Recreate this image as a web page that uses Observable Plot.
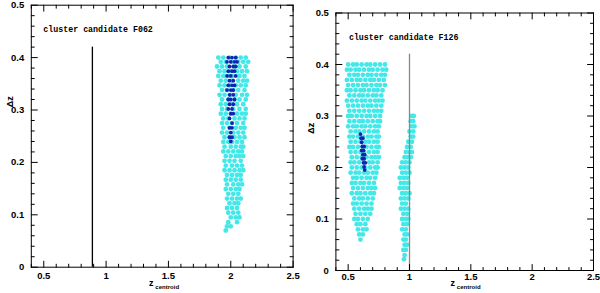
<!DOCTYPE html>
<html><head><meta charset="utf-8">
<script src="https://cdn.jsdelivr.net/npm/d3@7"></script>
<script src="https://cdn.jsdelivr.net/npm/@observablehq/plot@0.6"></script>
<style>
body{margin:0;background:#fff}
#wrap{position:relative;width:600px;height:293px;background:#fff}
#wrap svg{position:absolute;top:0}
</style>
</head><body><div id="wrap"></div>
<script>
// ---- tick labels ----
const xTickValues = [0.5, 1, 1.5, 2, 2.5];
const yTickValues = [0, 0.1, 0.2, 0.3, 0.4, 0.5];
const xMinorValues = [0.4, 0.6, 0.7, 0.8, 0.9, 1.1, 1.2, 1.3, 1.4, 1.6, 1.7, 1.8, 1.9, 2.1, 2.2, 2.3, 2.4];
const yMinorValues = [0.02,0.04,0.06,0.08,0.12,0.14,0.16,0.18,0.22,0.24,0.26,0.28,0.32,0.34,0.36,0.38,0.42,0.44,0.46,0.48];

// ---- titles / reference lines ----
const titles = ["cluster candidate F062", "cluster candidate F126"];
const refLineX = [0.89, 1.0];
const refLineTop = 0.42;

// ---- F062: cyan cloud rows [dz, [z_centroid ...]] ----
const f062Cyan = [
 [0.400,[1.90,1.94,1.99,2.04,2.08,2.12]],
 [0.392,[1.92,1.96,2.01,2.06,2.10,2.14]],
 [0.383,[1.89,1.93,1.97,2.03,2.07,2.12]],
 [0.374,[1.91,1.95,2.00,2.05,2.09,2.13]],
 [0.365,[1.90,1.94,1.98,2.02,2.07,2.11]],
 [0.356,[1.92,1.96,2.01,2.06,2.10,2.13]],
 [0.347,[1.91,1.95,1.99,2.04,2.08,2.12]],
 [0.338,[1.93,1.97,2.02,2.06,2.11]],
 [0.329,[1.91,1.95,2.00,2.04,2.09,2.13]],
 [0.320,[1.93,1.98,2.03,2.07,2.12]],
 [0.311,[1.92,1.96,2.01,2.05,2.10]],
 [0.302,[1.93,1.97,2.02,2.07,2.12]],
 [0.293,[1.92,1.96,2.00,2.05,2.09,2.12]],
 [0.284,[1.94,1.98,2.03,2.07,2.11]],
 [0.275,[1.93,1.97,2.01,2.05,2.10]],
 [0.266,[1.94,1.99,2.04,2.08,2.11]],
 [0.257,[1.93,1.97,2.02,2.06,2.10]],
 [0.248,[1.95,1.99,2.03,2.07,2.11]],
 [0.239,[1.94,1.98,2.01,2.05,2.09]],
 [0.230,[1.95,2.00,2.04,2.08,2.10]],
 [0.221,[1.94,1.98,2.02,2.06,2.09]],
 [0.212,[1.96,2.00,2.04,2.07,2.10]],
 [0.203,[1.95,1.99,2.03,2.08]],
 [0.194,[1.96,2.01,2.05,2.09]],
 [0.185,[1.95,1.99,2.03,2.07,2.10]],
 [0.176,[1.97,2.01,2.05,2.08]],
 [0.167,[1.96,2.00,2.04,2.08]],
 [0.158,[1.97,2.02,2.06,2.09]],
 [0.149,[1.96,2.00,2.04,2.07]],
 [0.140,[1.98,2.02,2.06]],
 [0.131,[1.97,2.01,2.05,2.08]],
 [0.122,[1.99,2.03,2.06]],
 [0.113,[1.97,2.01,2.05]],
 [0.104,[1.98,2.02,2.06]],
 [0.095,[2.00,2.04,2.07]],
 [0.086,[1.98,2.05]],
 [0.078,[1.97,2.00]],
 [0.070,[1.96]]
];
const f062Blue = [
 [0.400,[1.98,2.01,2.04]],
 [0.392,[1.97,2.00,2.03,2.05]],
 [0.383,[1.99,2.02,2.04]],
 [0.374,[1.98,2.01,2.03]],
 [0.365,[1.97,2.00,2.04]],
 [0.356,[1.99,2.02]],
 [0.347,[1.98,2.01,2.03]],
 [0.338,[1.97,2.00,2.02]],
 [0.329,[1.99,2.02]],
 [0.320,[1.98,2.00,2.03]],
 [0.311,[1.99,2.02]],
 [0.302,[1.98,2.01]],
 [0.293,[2.00,2.02]],
 [0.284,[1.99]],
 [0.275,[2.01]],
 [0.266,[1.99,2.01]],
 [0.257,[2.00]],
 [0.248,[1.99,2.01]],
 [0.240,[2.00]]
];

// ---- F126 ----
const f126CyanA = [
 [0.400,[0.50,0.54,0.57,0.61,0.65,0.68,0.72,0.76,0.80]],
 [0.390,[0.49,0.52,0.56,0.59,0.63,0.67,0.70,0.74,0.78,0.81]],
 [0.380,[0.51,0.55,0.58,0.62,0.66,0.69,0.73,0.77,0.80]],
 [0.370,[0.49,0.53,0.57,0.60,0.64,0.68,0.71,0.75,0.79]],
 [0.360,[0.50,0.54,0.58,0.62,0.65,0.69,0.73,0.76,0.80]],
 [0.350,[0.49,0.52,0.56,0.60,0.63,0.67,0.71,0.74,0.78]],
 [0.340,[0.51,0.55,0.59,0.62,0.66,0.70,0.73,0.77]],
 [0.330,[0.49,0.53,0.57,0.61,0.64,0.68,0.72,0.75,0.78]],
 [0.320,[0.50,0.54,0.58,0.62,0.66,0.69,0.73,0.77]],
 [0.310,[0.51,0.55,0.59,0.63,0.67,0.71,0.74,0.77]],
 [0.300,[0.50,0.53,0.57,0.61,0.65,0.68,0.72,0.76]],
 [0.290,[0.51,0.55,0.59,0.62,0.66,0.70,0.74,0.76]],
 [0.280,[0.50,0.54,0.57,0.61,0.64,0.68,0.72,0.75]],
 [0.270,[0.52,0.56,0.59,0.63,0.67,0.71,0.74]],
 [0.260,[0.51,0.54,0.58,0.62,0.66,0.69,0.73,0.75]],
 [0.250,[0.52,0.56,0.60,0.64,0.67,0.71,0.74]],
 [0.240,[0.51,0.54,0.58,0.62,0.65,0.69,0.73,0.75]],
 [0.230,[0.52,0.56,0.60,0.63,0.67,0.71,0.74]],
 [0.220,[0.53,0.57,0.61,0.65,0.69,0.72,0.75]],
 [0.210,[0.52,0.55,0.59,0.63,0.67,0.70,0.74]],
 [0.200,[0.53,0.57,0.61,0.64,0.68,0.72,0.74]],
 [0.190,[0.52,0.56,0.59,0.63,0.66,0.70,0.73]],
 [0.180,[0.54,0.57,0.61,0.65,0.68,0.72]],
 [0.170,[0.53,0.56,0.60,0.63,0.67,0.71]],
 [0.160,[0.54,0.58,0.62,0.66,0.69,0.72]],
 [0.150,[0.53,0.57,0.60,0.64,0.68,0.71]],
 [0.140,[0.55,0.59,0.62,0.66,0.70]],
 [0.130,[0.54,0.57,0.61,0.65,0.69]],
 [0.120,[0.55,0.59,0.63,0.66,0.69]],
 [0.110,[0.56,0.60,0.64,0.68]],
 [0.100,[0.55,0.58,0.62,0.66]],
 [0.090,[0.57,0.60,0.64]],
 [0.080,[0.58,0.62,0.65]],
 [0.070,[0.59,0.62]],
 [0.060,[0.60]]
];
const f126CyanB = [
 [0.300,[1.02,1.035]],
 [0.290,[1.01,1.03]],
 [0.280,[1.02,1.04]],
 [0.270,[1.00,1.03]],
 [0.260,[1.01,1.03]],
 [0.250,[0.99,1.02]],
 [0.240,[0.98,1.01]],
 [0.230,[0.97,1.00,1.02]],
 [0.220,[0.96,0.99,1.01]],
 [0.210,[0.94,0.97,1.00]],
 [0.200,[0.93,0.96,0.99]],
 [0.190,[0.94,0.97,1.00]],
 [0.180,[0.92,0.95,0.98]],
 [0.170,[0.93,0.96,0.99]],
 [0.160,[0.92,0.95,0.98]],
 [0.150,[0.94,0.97,1.00]],
 [0.140,[0.93,0.96,0.99]],
 [0.130,[0.94,0.97]],
 [0.120,[0.93,0.96,0.99]],
 [0.110,[0.95,0.98]],
 [0.100,[0.94,0.97,0.99]],
 [0.090,[0.95,0.98]],
 [0.080,[0.94,0.97]],
 [0.070,[0.96,0.98]],
 [0.060,[0.95,0.97]],
 [0.050,[0.96,0.98]],
 [0.040,[0.95,0.97]],
 [0.030,[0.96]],
 [0.022,[0.955]]
];
const f126Blue = [
 [0.265,[0.600]],
 [0.257,[0.605,0.620]],
 [0.249,[0.610]],
 [0.241,[0.615,0.630]],
 [0.233,[0.610,0.625]],
 [0.225,[0.620,0.635]],
 [0.217,[0.615,0.630]],
 [0.209,[0.625,0.640]],
 [0.201,[0.630]],
 [0.195,[0.635]]
];

const CYAN = "#45e8e8", BLUE = "#1424b0";
const toPoints = rows => rows.flatMap(([y, xs]) => xs.map(x => ({x, y})));
const fmt = d => String(d);

const tickShape = {draw(ctx, l) { ctx.moveTo(0, 0); ctx.lineTo(0, -l); }};
function ticks(values, axis, len) {
  const sides = axis === "x" ? [["bottom", 0], ["top", 180]] : [["left", 90], ["right", -90]];
  return sides.map(([fa, rot]) => Plot.vector(values, {
    [axis]: d => d, frameAnchor: fa, rotate: rot, length: len, anchor: "start",
    shape: tickShape, stroke: "black", strokeWidth: 1
  }));
}

function panel(cfg) {
  return Plot.plot({
    width: 300, height: 293,
    marginLeft: cfg.ml, marginRight: cfg.mr, marginTop: cfg.mt, marginBottom: cfg.mb,
    x: {domain: [0.4, 2.5], label: null},
    y: {domain: [0, 0.5], label: null},
    style: {fontFamily: "Liberation Sans, Arial, sans-serif", fontWeight: "bold", fontSize: "9.5px", background: "white", color: "black"},
    marks: [
      Plot.dot(toPoints(cfg.cyan), {x: "x", y: "y", r: 2.4, fill: CYAN, stroke: null}),
      Plot.dot(toPoints(cfg.blue), {x: "x", y: "y", r: 1.9, fill: BLUE, stroke: null}),
      Plot.ruleX([cfg.line], {y1: 0, y2: refLineTop, stroke: cfg.lineColor, strokeWidth: 1.3}),
      Plot.frame({stroke: "black", strokeWidth: 1}),
      ...ticks(xTickValues, "x", 6),
      ...ticks(xMinorValues, "x", 3),
      ...ticks(yTickValues, "y", 6),
      ...ticks(yMinorValues, "y", 3),
      Plot.axisX(xTickValues, {anchor: "bottom", tickSize: 0, tickPadding: cfg.xpad, label: null, fill: "black", tickFormat: fmt}),
      Plot.axisY(yTickValues, {anchor: "left", tickSize: 0, tickPadding: 7, label: null, fill: "black", tickFormat: fmt}),
      Plot.text([cfg.title], {frameAnchor: "top-left", textAnchor: "start", lineAnchor: "middle",
        dx: cfg.tdx, dy: cfg.tdy, fontFamily: "Liberation Mono, monospace", fontSize: 8.3, fontWeight: "bold", fill: "black"}),
      Plot.text(["Δz"], {frameAnchor: "left", rotate: -90, dx: cfg.ldx, dy: cfg.ldy, fontSize: 9, fill: "black"}),
      Plot.text(["z"], {frameAnchor: "bottom", dx: cfg.zdx, dy: cfg.zdy, fontSize: 9, fill: "black"}),
      Plot.text(["centroid"], {frameAnchor: "bottom", dx: cfg.zdx + 16, dy: cfg.zdy + 3, fontSize: 6, fill: "black"})
    ]
  });
}

const wrap = document.getElementById("wrap");
const left = panel({ml: 30.8, mr: 7.4, mt: 4.7, mb: 26.3, cyan: f062Cyan, blue: f062Blue,
  line: refLineX[0], lineColor: "black", title: titles[0], tdx: 12, tdy: 24, xpad: 5,
  ldx: -21, ldy: -29, zdx: -11, zdy: 18.5});
const right = panel({ml: 35.4, mr: 7, mt: 12.5, mb: 23, cyan: f126CyanA.concat(f126CyanB), blue: f126Blue,
  line: refLineX[1], lineColor: "#888888", title: titles[1], tdx: 13, tdy: 24, xpad: 3,
  ldx: -25, ldy: -8, zdx: -12, zdy: 15});
left.style.left = "0px";
right.style.left = "300px";
wrap.append(left, right);
</script>
</body></html>
